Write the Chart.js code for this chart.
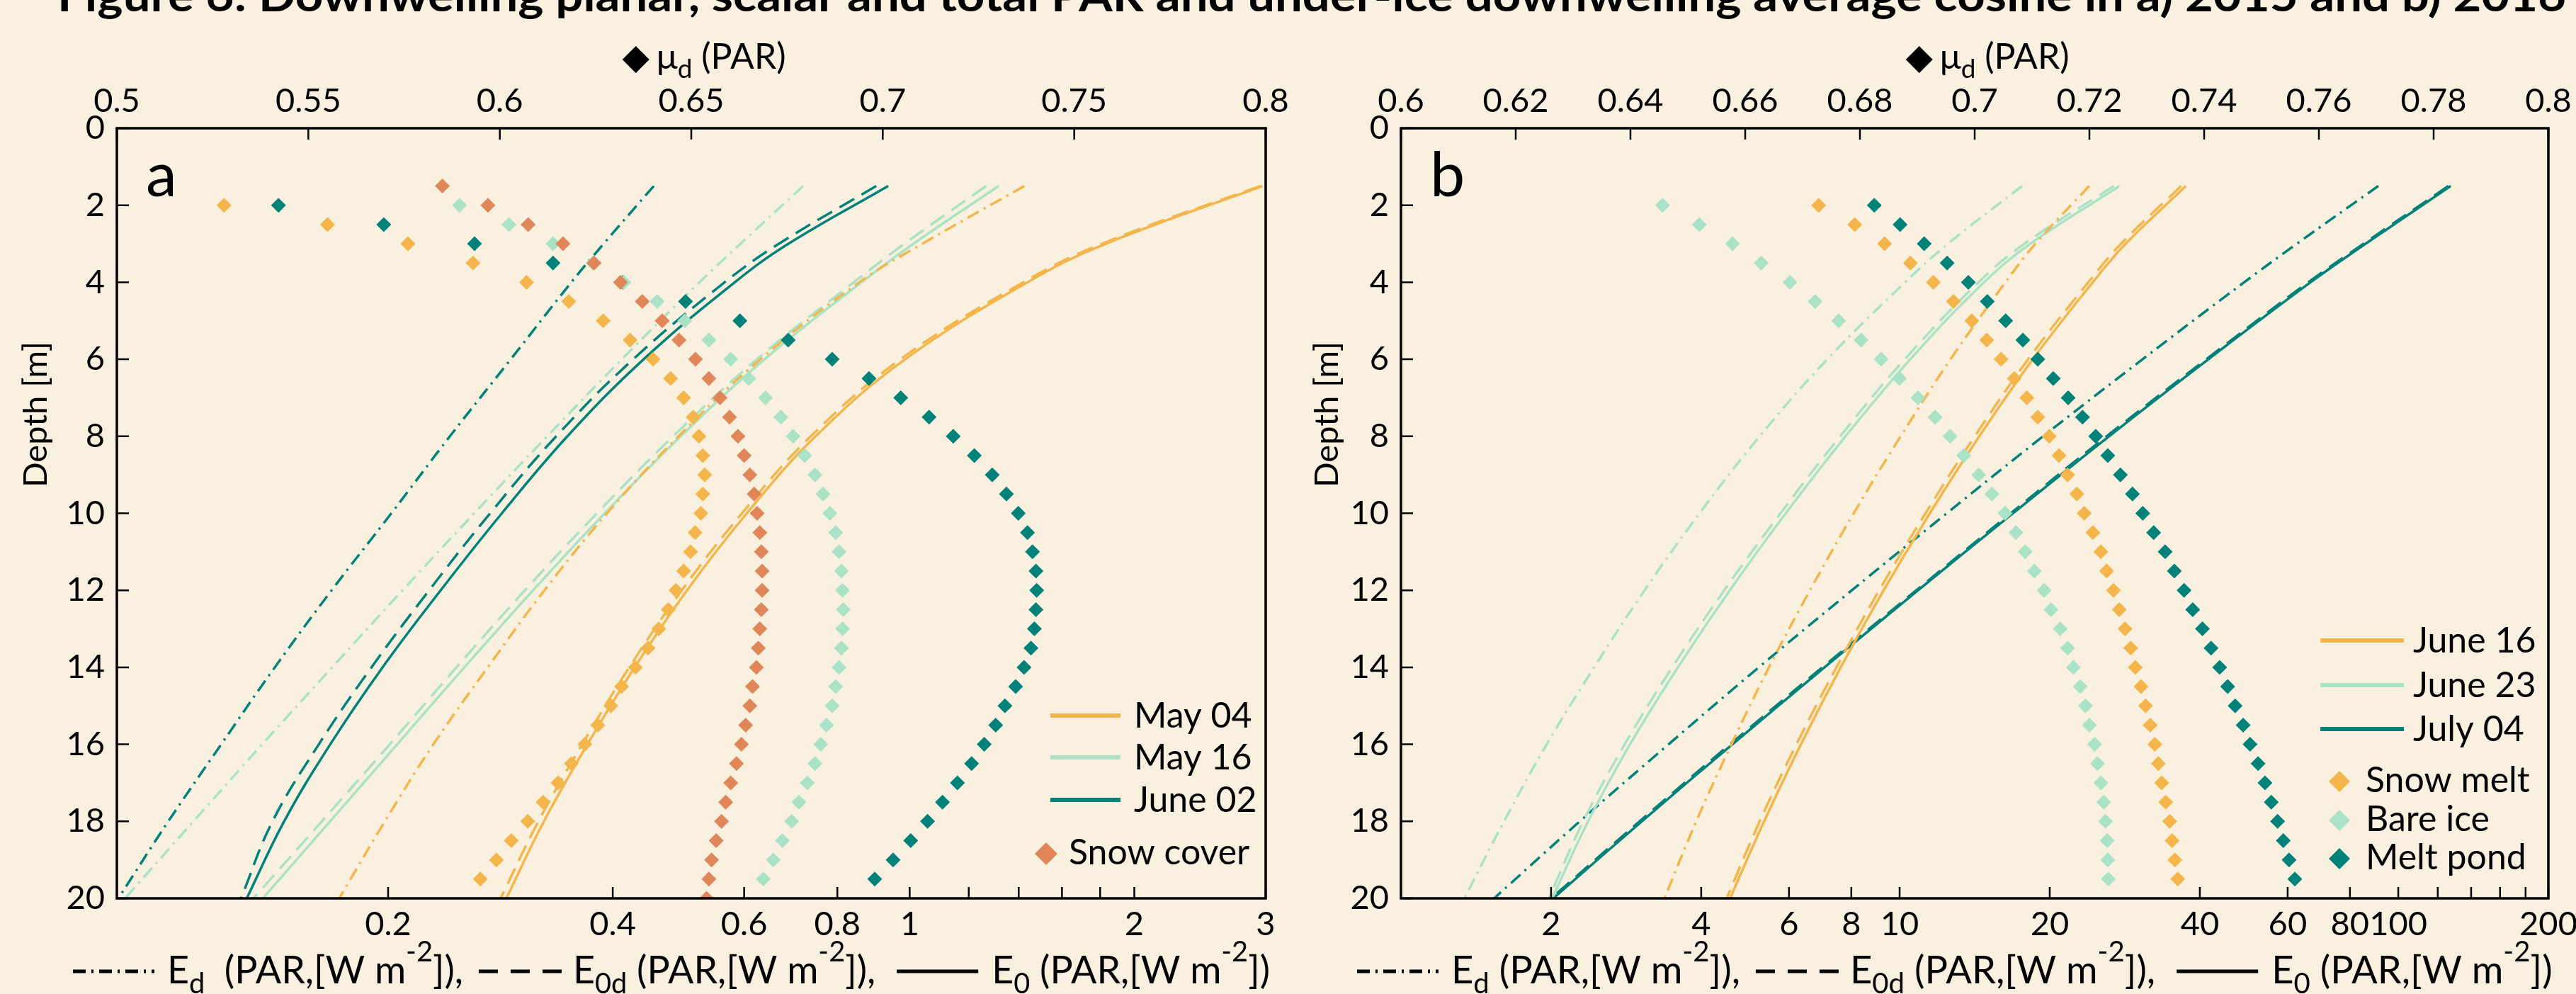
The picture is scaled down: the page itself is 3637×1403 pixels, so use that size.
<!DOCTYPE html>
<html><head><meta charset="utf-8">
<script src="https://cdn.jsdelivr.net/npm/chart.js@4.4.1/dist/chart.umd.min.js"></script>
<style>
html,body{margin:0;padding:0;background:#FAF0DF;overflow:hidden;}
body{width:3637px;height:1403px;position:relative;}
#ca{position:absolute;left:0;top:0;}
#cb{position:absolute;left:1830px;top:0;}
svg{position:absolute;left:0;top:0;}
</style></head><body>
<svg width="3637" height="40"><text x="81" y="16" font-family="Lato" font-weight="700" font-size="62" textLength="3542" lengthAdjust="spacingAndGlyphs">Figure 6: Downwelling planar, scalar and total PAR and under-ice downwelling average cosine in a) 2015 and b) 2016</text></svg>
<canvas id="ca" width="1830" height="1403"></canvas>
<canvas id="cb" width="1807" height="1403"></canvas>
<script>
// ---------------- DATA ----------------
const lineDepths = [1.5, 3, 4, 6, 8, 10, 12, 14, 16, 18, 20];
const muDepths = [2,2.5,3,3.5,4,4.5,5,5.5,6,6.5,7,7.5,8,8.5,9,9.5,10,10.5,11,11.5,12,12.5,13,13.5,14,14.5,15,15.5,16,16.5,17,17.5,18,18.5,19,19.5];
const snowDepths = [1.5,2,2.5,3,3.5,4,4.5,5,5.5,6,6.5,7,7.5,8,8.5,9,9.5,10,10.5,11,11.5,12,12.5,13,13.5,14,14.5,15,15.5,16,16.5,17,17.5,18,18.5,19,19.5,20];

const depthTicks = [0,2,4,6,8,10,12,14,16,18,20];
const depthLabels = ['0','2','4','6','8','10','12','14','16','18','20'];
const depthTitle = 'Depth [m]';

// Panel a (2015)
const seriesA = ['May 04', 'May 16', 'June 02'];
const markA = ['Snow cover'];
const a_May04_Ed  = [1.425, 1.04, 0.856, 0.631, 0.49, 0.393, 0.324, 0.272, 0.23, 0.198, 0.172];
const a_May04_E0d = [2.95, 1.81, 1.42, 0.972, 0.737, 0.596, 0.495, 0.421, 0.364, 0.318, 0.283];
const a_May04_E0  = [2.97, 1.831, 1.438, 0.986, 0.748, 0.605, 0.503, 0.428, 0.37, 0.3235, 0.288];
const a_May16_Ed  = [0.72, 0.5935, 0.5228, 0.4114, 0.3268, 0.2609, 0.2091, 0.1683, 0.1356, 0.1097, 0.0888];
const a_May16_E0d = [1.266, 0.984, 0.842, 0.624, 0.482, 0.381, 0.305, 0.247, 0.201, 0.163, 0.132];
const a_May16_E0  = [1.316, 1.012, 0.862, 0.639, 0.4934, 0.3902, 0.3128, 0.2531, 0.2057, 0.1672, 0.1359];
const a_Jun02_Ed  = [0.454, 0.389, 0.352, 0.292, 0.242, 0.202, 0.168, 0.141, 0.1195, 0.1015, 0.087];
const a_Jun02_E0d = [0.902, 0.668, 0.565, 0.426, 0.336, 0.274, 0.227, 0.19, 0.1615, 0.14, 0.127];
const a_Jun02_E0  = [0.936, 0.688, 0.583, 0.44, 0.3478, 0.2841, 0.2352, 0.1966, 0.1673, 0.1451, 0.1293];
const a_mu_May04 = [0.528,0.555,0.576,0.593,0.607,0.618,0.627,0.634,0.640,0.6446,0.648,0.6505,0.652,0.653,0.6535,0.653,0.6525,0.651,0.6498,0.648,0.646,0.644,0.6415,0.6387,0.6354,0.6318,0.629,0.6256,0.6222,0.6187,0.6152,0.6113,0.6073,0.603,0.5991,0.5949];
const a_mu_May16 = [0.5895,0.6024,0.6139,0.6243,0.6324,0.6411,0.6483,0.6546,0.6603,0.665,0.6694,0.6734,0.6766,0.6796,0.6823,0.6844,0.6862,0.6877,0.6886,0.6892,0.6895,0.6897,0.6895,0.6892,0.6886,0.6877,0.6868,0.6853,0.6838,0.6823,0.6803,0.6781,0.6762,0.6738,0.6714,0.6688];
const a_mu_Jun02 = [0.5422,0.5697,0.5934,0.6139,0.6322,0.6485,0.6627,0.6753,0.6868,0.6964,0.7047,0.7121,0.7184,0.7239,0.7286,0.7323,0.7354,0.7378,0.7391,0.740,0.7402,0.740,0.7396,0.7387,0.7369,0.7347,0.7319,0.7295,0.7265,0.7232,0.7195,0.7156,0.7117,0.7073,0.7027,0.6979];
const a_mu_Snow  = [0.585,0.5969,0.6074,0.6165,0.6246,0.6315,0.6372,0.6424,0.6468,0.6511,0.6546,0.6575,0.660,0.6622,0.6638,0.6653,0.6664,0.6672,0.6679,0.6683,0.6685,0.6685,0.6683,0.6679,0.6675,0.667,0.666,0.6653,0.6642,0.6631,0.6618,0.6603,0.659,0.6579,0.6565,0.6553,0.6546,0.654];
const topTicksA = [0.5,0.55,0.6,0.65,0.7,0.75,0.8];
const topLabelsA = ['0.5','0.55','0.6','0.65','0.7','0.75','0.8'];
const botTicksA = [0.2,0.4,0.6,0.8,1,1.2,1.4,1.6,1.8,2,3];
const botLabelsA = ['0.2','0.4','0.6','0.8','1','','','','','2','3'];

// Panel b (2016)
const seriesB = ['June 16', 'June 23', 'July 04'];
const markB = ['Snow melt', 'Bare ice', 'Melt pond'];
const b_Jun16_Ed  = [24.0, 18.72, 16.3, 12.65, 10.05, 8.09, 6.61, 5.47, 4.6, 3.91, 3.375];
const b_Jun16_E0d = [36.7, 27.8, 23.9, 18.1, 14.15, 11.27, 9.1, 7.47, 6.21, 5.24, 4.5];
const b_Jun16_E0  = [37.5, 28.4, 24.4, 18.5, 14.45, 11.5, 9.29, 7.62, 6.34, 5.35, 4.57];
const b_Jun23_Ed  = [17.6, 12.5, 10.26, 7.16, 5.24, 3.97, 3.08, 2.44, 1.96, 1.61, 1.34];
const b_Jun23_E0d = [26.9, 17.8, 14.4, 10.24, 7.6, 5.77, 4.45, 3.5, 2.81, 2.32, 1.98];
const b_Jun23_E0  = [27.6, 18.3, 14.77, 10.505, 7.79, 5.91, 4.565, 3.593, 2.88, 2.373, 2.01];
const b_Jul04_Ed  = [91.2, 62.6, 49.1, 30.7, 19.4, 12.43, 8.02, 5.22, 3.44, 2.284, 1.537];
const b_Jul04_E0d = [126, 85.2, 66.0, 41.2, 26.0, 16.7, 10.8, 7.0, 4.57, 3.01, 2.0];
const b_Jul04_E0  = [127.4, 86.0, 66.7, 41.6, 26.3, 16.88, 10.89, 7.07, 4.62, 3.04, 2.02];
const b_mu_SnowMelt = [0.6728,0.6791,0.6843,0.6888,0.6928,0.6963,0.6995,0.7021,0.7046,0.7069,0.7091,0.711,0.713,0.7147,0.7162,0.7178,0.7191,0.7206,0.722,0.723,0.7242,0.7252,0.7262,0.7272,0.728,0.729,0.7298,0.7306,0.7314,0.732,0.7326,0.7333,0.734,0.7344,0.7349,0.7354];
const b_mu_BareIce  = [0.6456,0.652,0.6578,0.6628,0.6678,0.6722,0.6763,0.6802,0.6837,0.6869,0.6901,0.6931,0.6957,0.6981,0.7007,0.703,0.7053,0.7072,0.7088,0.7104,0.7121,0.7133,0.7149,0.7162,0.7172,0.7184,0.7193,0.72,0.7209,0.7214,0.722,0.7225,0.7228,0.7231,0.7232,0.7233];
const b_mu_MeltPond = [0.6825,0.687,0.6912,0.6952,0.6989,0.7022,0.7054,0.7084,0.711,0.7137,0.7163,0.7188,0.7211,0.7232,0.7254,0.7275,0.7293,0.7312,0.7332,0.7348,0.7365,0.738,0.7397,0.7412,0.7427,0.7441,0.7454,0.7468,0.748,0.7494,0.7506,0.7517,0.7528,0.7538,0.7548,0.7558];
const topTicksB = [0.6,0.62,0.64,0.66,0.68,0.7,0.72,0.74,0.76,0.78,0.8];
const topLabelsB = ['0.6','0.62','0.64','0.66','0.68','0.7','0.72','0.74','0.76','0.78','0.8'];
const botTicksB = [2,4,6,8,10,20,40,60,80,100,120,140,160,180,200];
const botLabelsB = ['2','4','6','8','10','20','40','60','80','100','','','','','200'];

// ---------------- STYLE ----------------
const ORANGE = '#F4B64A', LGREEN = '#AAE2C6', TEAL = '#00827B', SNOW = '#E08658';
const INK = '#000';
const FONT = 'Lato, "DejaVu Sans", sans-serif';
const DASH = [24, 12], DASHDOT = [18, 8, 3, 8];
Chart.defaults.font.family = FONT;
Chart.defaults.color = INK;

function lineDs(label, vals, color, dash) {
  return { label, data: vals.map((v, i) => ({ x: v, y: lineDepths[i] })), xAxisID: 'x', yAxisID: 'y',
    showLine: true, borderColor: color, backgroundColor: color, borderWidth: 3.5, borderDash: dash,
    pointRadius: 0, tension: 0.4, fill: false, order: 2 };
}
function muDs(label, vals, depths, color) {
  return { label, data: vals.map((v, i) => ({ x: v, y: depths[i] })), xAxisID: 'xTop', yAxisID: 'y',
    showLine: false, pointStyle: 'rectRot', pointRadius: 10.5, backgroundColor: color, borderWidth: 0, order: 1 };
}

function drawRich(ctx, parts, x, y, size, measureOnly) {
  let cx = x, textW = 0;
  for (const p of parts) {
    if (p.gap) { cx += p.gap; continue; }
    if (p.sample) {
      if (!measureOnly) {
        ctx.save(); ctx.strokeStyle = INK; ctx.lineWidth = 5; ctx.setLineDash(p.dash);
        ctx.beginPath(); ctx.moveTo(cx, y - 17); ctx.lineTo(cx + p.w, y - 17); ctx.stroke(); ctx.restore();
      }
      cx += p.w; continue;
    }
    const small = p.sub || p.sup;
    const fs = small ? size * 0.74 : size;
    ctx.font = fs + 'px ' + FONT;
    const dy = p.sub ? size * 0.26 : (p.sup ? -size * 0.58 : 0);
    if (!measureOnly) { ctx.fillStyle = INK; ctx.textAlign = 'left'; ctx.textBaseline = 'alphabetic'; ctx.fillText(p.t, cx, y + dy); }
    const w = ctx.measureText(p.t).width;
    cx += w; textW += w;
  }
  return { total: cx - x, text: textW };
}

const bottomParts = (sp) => [
  { sample: 1, dash: DASHDOT, w: 115 }, { gap: 18 }, { t: 'E' }, { t: 'd', sub: 1 }, { t: sp + '(PAR,[W m' }, { t: '-2', sup: 1 }, { t: ']),' },
  { gap: 22 }, { sample: 1, dash: [27, 18], w: 118 }, { gap: 15 }, { t: 'E' }, { t: '0d', sub: 1 }, { t: ' (PAR,[W m' }, { t: '-2', sup: 1 }, { t: ']),' },
  { gap: 30 }, { sample: 1, dash: [], w: 115 }, { gap: 19 }, { t: 'E' }, { t: '0', sub: 1 }, { t: ' (PAR,[W m' }, { t: '-2', sup: 1 }, { t: '])' }
];

const framePlugin = {
  id: 'frame',
  afterDatasetsDraw(chart, args, o) {
    const ctx = chart.ctx, ca = chart.chartArea;
    const sx = chart.scales.x, st = chart.scales.xTop, sy = chart.scales.y;
    ctx.save();
    ctx.strokeStyle = INK; ctx.lineWidth = 2.5; ctx.setLineDash([]);
    ctx.beginPath();
    sy.ticks.forEach(t => { const p = sy.getPixelForValue(t.value); ctx.moveTo(ca.left, p); ctx.lineTo(ca.left + 17, p); });
    st.ticks.forEach(t => { const p = st.getPixelForValue(t.value); ctx.moveTo(p, ca.top); ctx.lineTo(p, ca.top + 16); });
    sx.ticks.forEach(t => { const p = sx.getPixelForValue(t.value); ctx.moveTo(p, ca.bottom); ctx.lineTo(p, ca.bottom - 16); });
    ctx.stroke();
    ctx.lineWidth = 3.5;
    ctx.strokeRect(ca.left, ca.top, ca.right - ca.left, ca.bottom - ca.top);

    const L = o.legend, R = ca.right, B = ca.bottom;
    ctx.font = '50px ' + FONT; ctx.fillStyle = INK; ctx.textBaseline = 'alphabetic'; ctx.textAlign = 'left';
    L.lines.forEach((e, i) => {
      const y = B + L.lineYs[i];
      ctx.strokeStyle = e.color; ctx.lineWidth = 6; ctx.beginPath();
      ctx.moveTo(R + L.lineX1, y); ctx.lineTo(R + L.lineX2, y); ctx.stroke();
      ctx.fillStyle = INK; ctx.fillText(e.label, R + L.textX, y + 17);
    });
    L.marks.forEach((e, i) => {
      const y = B + L.markYs[i], x = R + L.markX, r = L.markR;
      ctx.fillStyle = e.color; ctx.beginPath();
      ctx.moveTo(x, y - r); ctx.lineTo(x + r, y); ctx.lineTo(x, y + r); ctx.lineTo(x - r, y); ctx.closePath(); ctx.fill();
      ctx.fillStyle = INK; ctx.fillText(e.label, R + L.markTextX, y + 15);
    });

    ctx.font = '88px ' + FONT; ctx.fillStyle = INK;
    ctx.fillText(o.letter, ca.left + 41, ca.top + 96);

    // y-axis title
    ctx.save();
    ctx.translate(ca.left + o.yTitleDx, 585);
    ctx.rotate(-Math.PI / 2);
    ctx.font = '47px ' + FONT; ctx.textAlign = 'center'; ctx.textBaseline = 'middle'; ctx.fillStyle = INK;
    ctx.fillText(depthTitle, 0, 0);
    ctx.restore();

    const topParts = [{ t: '\u25C6' }, { gap: 10 }, { t: '\u03BC' }, { t: 'd', sub: 1 }, { t: ' (PAR)' }];
    const m = drawRich(ctx, topParts, 0, 0, 50, true);
    drawRich(ctx, topParts, (ca.left + ca.right) / 2 + 18 - m.total / 2, 97, 50, false);

    const bp = bottomParts(o.sp);
    const left = ca.left - 62, right = ca.right + 6;
    const m0 = drawRich(ctx, bp, 0, 0, 47, true);
    const fixed = m0.total - m0.text;
    const size = 47 * (right - left - fixed) / m0.text;
    drawRich(ctx, bp, left, 1388, size, false);
    ctx.restore();
  }
};

function makeChart(id, cfg) {
  return new Chart(document.getElementById(id), {
    type: 'scatter',
    data: { datasets: cfg.datasets },
    options: {
      responsive: false, animation: false, events: [],
      layout: { padding: { left: 0, right: cfg.padRight, top: 0, bottom: 0 } },
      plugins: { legend: { display: false }, tooltip: { enabled: false }, frame: cfg.frame },
      scales: {
        x: { type: 'logarithmic', position: 'bottom', min: cfg.xMin, max: cfg.xMax,
          afterBuildTicks: s => { s.ticks = cfg.botTicks.map(v => ({ value: v })); },
          afterFit: s => { s.height = 135; s.paddingLeft = 0; s.paddingRight = 0; },
          grid: { display: false, drawTicks: false }, border: { display: false },
          ticks: { autoSkip: false, maxRotation: 0, minRotation: 0, padding: 9, font: { size: 47 }, color: INK,
            callback: (v, i) => cfg.botLabels[i] } },
        xTop: { type: 'linear', position: 'top', min: cfg.topMin, max: cfg.topMax,
          afterBuildTicks: s => { s.ticks = cfg.topTicks.map(v => ({ value: v })); },
          afterFit: s => { s.height = 181; s.paddingLeft = 0; s.paddingRight = 0; },
          grid: { display: false, drawTicks: false }, border: { display: false },
          ticks: { autoSkip: false, maxRotation: 0, minRotation: 0, padding: 10, font: { size: 47 }, color: INK,
            callback: (v, i) => cfg.topLabels[i] } },
        y: { type: 'linear', position: 'left', reverse: true, min: 0, max: 20,
          afterBuildTicks: s => { s.ticks = depthTicks.map(v => ({ value: v })); },
          afterFit: s => { s.width = cfg.leftW; s.paddingTop = 0; s.paddingBottom = 0; },
          grid: { display: false, drawTicks: false }, border: { display: false },
          ticks: { autoSkip: false, padding: 17, font: { size: 47 }, color: INK,
            callback: (v, i) => depthLabels[i] } }
      }
    },
    plugins: [framePlugin]
  });
}

makeChart('ca', {
  padRight: 43, leftW: 165, xMin: 0.0866, xMax: 3, topMin: 0.5, topMax: 0.8,
  topTicks: topTicksA, topLabels: topLabelsA, botTicks: botTicksA, botLabels: botLabelsA,
  datasets: [
    muDs('\u03BCd Snow cover', a_mu_Snow, snowDepths, SNOW),
    muDs('\u03BCd May 04', a_mu_May04, muDepths, ORANGE),
    muDs('\u03BCd May 16', a_mu_May16, muDepths, LGREEN),
    muDs('\u03BCd June 02', a_mu_Jun02, muDepths, TEAL),
    lineDs('Ed May 04', a_May04_Ed, ORANGE, DASHDOT),
    lineDs('E0d May 04', a_May04_E0d, ORANGE, DASH),
    lineDs('E0 May 04', a_May04_E0, ORANGE, []),
    lineDs('Ed May 16', a_May16_Ed, LGREEN, DASHDOT),
    lineDs('E0d May 16', a_May16_E0d, LGREEN, DASH),
    lineDs('E0 May 16', a_May16_E0, LGREEN, []),
    lineDs('Ed June 02', a_Jun02_Ed, TEAL, DASHDOT),
    lineDs('E0d June 02', a_Jun02_E0d, TEAL, DASH),
    lineDs('E0 June 02', a_Jun02_E0, TEAL, [])
  ],
  frame: {
    letter: 'a', sp: '  ', yTitleDx: -114,
    legend: {
      lines: [{ label: seriesA[0], color: ORANGE }, { label: seriesA[1], color: LGREEN }, { label: seriesA[2], color: TEAL }],
      lineX1: -304, lineX2: -205, textX: -186, lineYs: [-258, -199, -139],
      marks: [{ label: markA[0], color: SNOW }], markX: -310, markR: 16, markTextX: -278, markYs: [-63]
    }
  }
});

makeChart('cb', {
  padRight: 39, leftW: 148, xMin: 1, xMax: 200, topMin: 0.6, topMax: 0.8,
  topTicks: topTicksB, topLabels: topLabelsB, botTicks: botTicksB, botLabels: botLabelsB,
  datasets: [
    muDs('\u03BCd Snow melt', b_mu_SnowMelt, muDepths, ORANGE),
    muDs('\u03BCd Bare ice', b_mu_BareIce, muDepths, LGREEN),
    muDs('\u03BCd Melt pond', b_mu_MeltPond, muDepths, TEAL),
    lineDs('Ed June 16', b_Jun16_Ed, ORANGE, DASHDOT),
    lineDs('E0d June 16', b_Jun16_E0d, ORANGE, DASH),
    lineDs('E0 June 16', b_Jun16_E0, ORANGE, []),
    lineDs('Ed June 23', b_Jun23_Ed, LGREEN, DASHDOT),
    lineDs('E0d June 23', b_Jun23_E0d, LGREEN, DASH),
    lineDs('E0 June 23', b_Jun23_E0, LGREEN, []),
    lineDs('Ed July 04', b_Jul04_Ed, TEAL, DASHDOT),
    lineDs('E0d July 04', b_Jul04_E0d, TEAL, DASH),
    lineDs('E0 July 04', b_Jul04_E0, TEAL, [])
  ],
  frame: {
    letter: 'b', sp: ' ', yTitleDx: -104,
    legend: {
      lines: [{ label: seriesB[0], color: ORANGE }, { label: seriesB[1], color: LGREEN }, { label: seriesB[2], color: TEAL }],
      lineX1: -322, lineX2: -204, textX: -191, lineYs: [-364, -301, -239],
      marks: [{ label: markB[0], color: ORANGE }, { label: markB[1], color: LGREEN }, { label: markB[2], color: TEAL }],
      markX: -295, markR: 15, markTextX: -258, markYs: [-165, -110, -56]
    }
  }
});
</script>
</body></html>
